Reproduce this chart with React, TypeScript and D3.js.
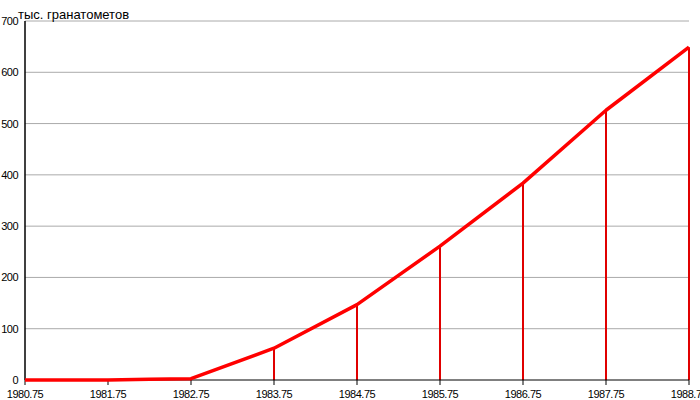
import React from "react";
import * as d3 from "d3";

const years = [1980.75, 1981.75, 1982.25, 1982.75, 1983.75, 1984.75, 1985.75, 1986.75, 1987.75, 1988.75];
const values = [0, 0, 1.5, 2.5, 62, 147, 261, 384, 526, 649];
const dropYears = [1983.75, 1984.75, 1985.75, 1986.75, 1987.75, 1988.75];
const xTicks = [1980.75, 1981.75, 1982.75, 1983.75, 1984.75, 1985.75, 1986.75, 1987.75, 1988.75];
const yTicks = [0, 100, 200, 300, 400, 500, 600, 700];
const yTitle = "тыс. гранатометов";

export default function App() {
  const W = 700, H = 400;
  const x = d3.scaleLinear().domain([1980.75, 1988.75]).range([25, 689]);
  const y = d3.scaleLinear().domain([0, 700]).range([380, 21]);
  const line = d3.line<number>().x((_, i) => x(years[i])).y((d) => y(d));
  const font = "'Liberation Sans', Arial, sans-serif";
  return (
    <svg width={W} height={H} style={{ position: "absolute", left: 0, top: 0 }}>
      <rect width={W} height={H} fill="#fff" />
      {yTicks.filter((t) => t > 0).map((t) => (
        <line key={t} x1={x(1980.75)} x2={x(1988.75)} y1={y(t)} y2={y(t)} stroke="#aaaaaa" strokeWidth={1} />
      ))}
      {yTicks.map((t) => (
        <text key={t} x={18} y={y(t) + 4} textAnchor="end" fontFamily={font} fontSize={11} letterSpacing={-0.5} fill="#000">{t}</text>
      ))}
      <text x={18} y={19} fontFamily={font} fontSize={13} fill="#000">{yTitle}</text>
      {dropYears.map((yr) => {
        const v = values[years.indexOf(yr)];
        return <line key={yr} x1={x(yr)} x2={x(yr)} y1={y(v)} y2={y(0)} stroke="#e00000" strokeWidth={2} />;
      })}
      <line x1={x(1980.75)} x2={x(1988.75)} y1={y(0)} y2={y(0)} stroke="#000" strokeWidth={1} />
      <line x1={x(1980.75)} x2={x(1980.75)} y1={y(700)} y2={y(0)} stroke="#000" strokeWidth={1.5} />
      {xTicks.map((t) => (
        <g key={t}>
          <line x1={x(t)} x2={x(t)} y1={y(0)} y2={y(0) + 5} stroke="#000" />
          <text x={x(t)} y={398} textAnchor="middle" fontFamily={font} fontSize={11} letterSpacing={-0.5} fill="#000">{t}</text>
        </g>
      ))}
      <path d={line(values) || ""} fill="none" stroke="#ff0000" strokeWidth={3.5} strokeLinejoin="round" />
    </svg>
  );
}
